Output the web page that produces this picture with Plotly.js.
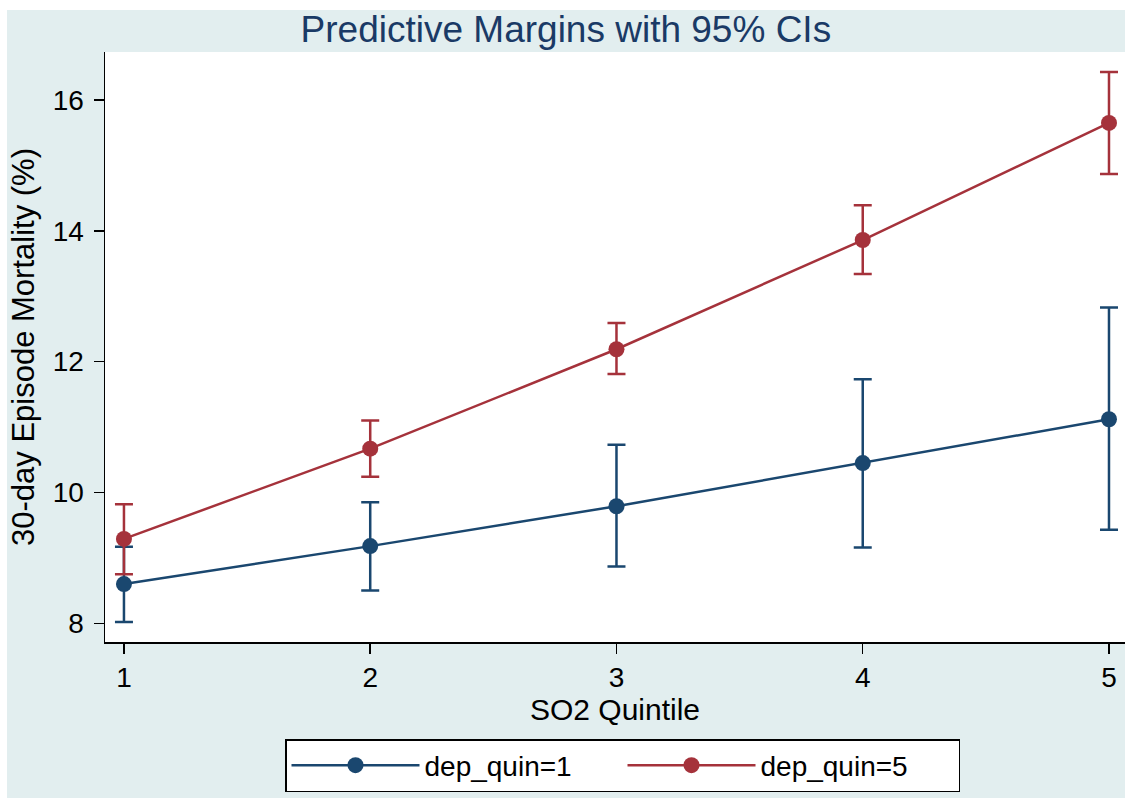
<!DOCTYPE html>
<html>
<head>
<meta charset="utf-8">
<script src="https://cdn.plot.ly/plotly-3.0.1.min.js"></script>
<style>html,body{margin:0;padding:0;background:#fff;}#chart{width:1125px;height:798px;}</style>
</head>
<body>
<div id="chart"></div>
<script>
// Data
const quintiles = [1, 2, 3, 4, 5];
const dep1Margin = [8.60, 9.18, 9.79, 10.45, 11.12];
const dep1Lower  = [8.02, 8.50, 8.87, 9.16, 9.43];
const dep1Upper  = [9.17, 9.85, 10.73, 11.73, 12.83];
const dep5Margin = [9.29, 10.67, 12.19, 13.86, 15.65];
const dep5Lower  = [8.75, 10.24, 11.81, 13.34, 14.87];
const dep5Upper  = [9.82, 11.10, 12.59, 14.39, 16.43];
const seriesNames = ['dep_quin=1', 'dep_quin=5'];
const yTicks = [8, 10, 12, 14, 16];

const BLUE = '#1a476f';
const RED = '#a5323b';
const BG = '#e2eeef';
const FONT = 'Liberation Sans, Arial, Helvetica, sans-serif';

function trace(name, m, lo, hi, color) {
  return {
    x: quintiles, y: m, name: name, type: 'scatter', mode: 'lines+markers',
    line: {color: color, width: 2.5},
    marker: {color: color, size: 16},
    error_y: {type: 'data', symmetric: false,
      array: hi.map((v, i) => v - m[i]),
      arrayminus: m.map((v, i) => v - lo[i]),
      color: color, thickness: 2.5, width: 9}
  };
}

const data = [
  trace(seriesNames[0], dep1Margin, dep1Lower, dep1Upper, BLUE),
  trace(seriesNames[1], dep5Margin, dep5Lower, dep5Upper, RED)
];

const W = 1020, H = 590, L = 105, T = 52, B = 156;
const layout = {
  width: 1125, height: 798,
  margin: {l: L, r: 0, t: T, b: B, pad: 0},
  paper_bgcolor: BG, plot_bgcolor: '#ffffff',
  font: {family: FONT, color: '#000', size: 28},
  showlegend: true,
  title: {text: 'Predictive Margins with 95% CIs', font: {family: FONT, size: 37, color: '#1a3a66'},
    x: 0.503, xref: 'container', xanchor: 'center', y: 1 - 29/798, yref: 'container', yanchor: 'middle'},
  xaxis: {
    range: [0.923, 5.065], tickvals: quintiles, ticktext: quintiles.map(String),
    showgrid: false, zeroline: false, showline: true, linecolor: '#000', linewidth: 1.5,
    ticks: 'outside', ticklen: 10, tickwidth: 1.5, tickcolor: '#000',
    tickfont: {size: 28, family: FONT}, automargin: false,
    title: {text: 'SO2 Quintile', font: {size: 30, family: FONT}, standoff: 0}
  },
  yaxis: {
    range: [7.714, 16.735], tickvals: yTicks, ticktext: yTicks.map(String),
    showgrid: false, zeroline: false, showline: true, linecolor: '#000', linewidth: 1.5,
    ticks: 'outside', ticklen: 10, tickwidth: 1.5, tickcolor: '#000',
    tickfont: {size: 28, family: FONT}, automargin: false, ticklabelstandoff: 4,
    title: {text: '30-day Episode Mortality (%)', font: {size: 31, family: FONT}, standoff: 9}
  },
  legend: {
    orientation: 'h', x: (285 - L) / W, xanchor: 'left', y: (642 - 739) / H, yanchor: 'top',
    bgcolor: '#ffffff', bordercolor: '#000', borderwidth: 1.5,
    font: {size: 28, family: FONT}, itemwidth: 128, entrywidth: 193, entrywidthmode: 'pixels',
    traceorder: 'normal', itemclick: false
  },
  shapes: [
    {type: 'rect', xref: 'paper', yref: 'paper', x0: -L/W, x1: (7 - L)/W, y0: -B/H, y1: 1 + T/H,
      fillcolor: '#ffffff', line: {width: 0}, layer: 'above'},
    {type: 'rect', xref: 'paper', yref: 'paper', x0: -L/W, x1: 1.01, y0: (642 - 10)/H, y1: 1 + T/H,
      fillcolor: '#ffffff', line: {width: 0}, layer: 'above'}
  ]
};

Plotly.newPlot('chart', data, layout, {displayModeBar: false, staticPlot: true});
</script>
</body>
</html>
